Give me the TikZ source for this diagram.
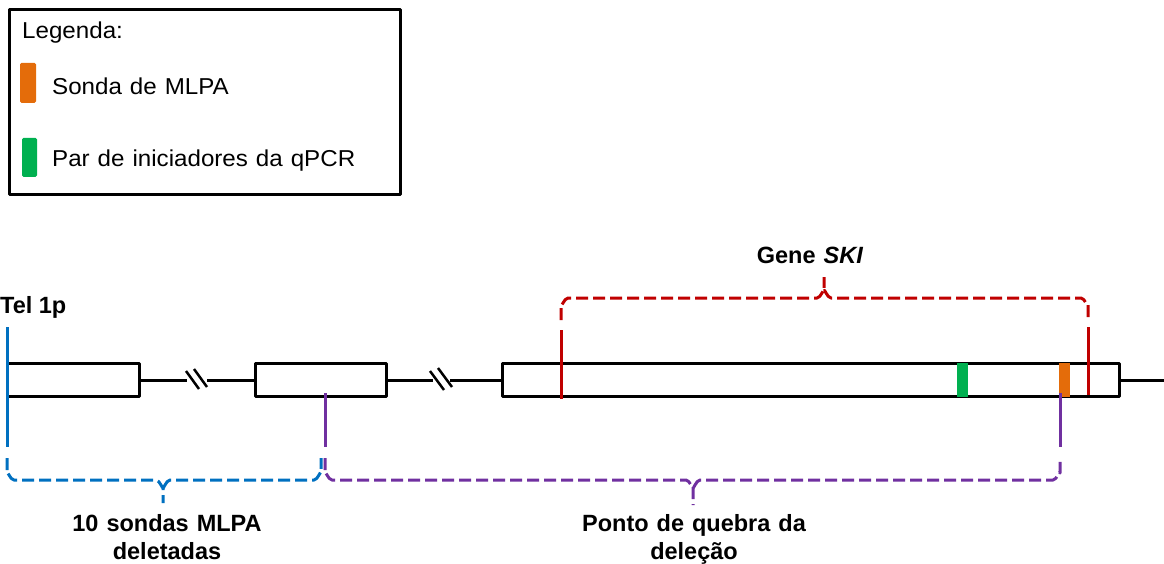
\documentclass[tikz,border=0pt]{standalone}
\usepackage{graphicx}
\usepackage{fontspec}
\setmainfont{Liberation Sans}
\definecolor{cblue}{RGB}{0,112,192}
\definecolor{cred}{RGB}{192,0,0}
\definecolor{cpurple}{RGB}{112,48,160}
\definecolor{cgreen}{RGB}{0,176,80}
\definecolor{corange}{RGB}{228,108,10}
\newcommand\legtext[1]{\scalebox{1.05}[1]{\spaceskip=7.6pt\relax #1}}
\newcommand\lblsp{\spaceskip=8pt\relax}
\begin{document}
\begin{tikzpicture}[x=1pt,y=-1pt,line join=round,
  seg/.style={draw=black,line width=3pt,fill=white,inner sep=0pt,minimum height=33pt},
  axis/.style={draw=black,line width=3pt},
  brk/.style={draw=black,line width=2.5pt},
  vline/.style={line width=3pt},
  bracepath/.style={line width=3pt,dash pattern=on 12pt off 5pt},
  swatch/.style={rounded corners=1.5pt},
  legtxt/.style={font=\fontsize{23}{27}\selectfont,inner sep=0pt,anchor=base west},
  lbl/.style={font=\fontsize{23.5}{28}\selectfont\bfseries,inner sep=0pt,align=center}]
\useasboundingbox (0,0) rectangle (1164,564);

% legend
\node[draw=black,line width=3pt,minimum width=391pt,minimum height=184.5pt,inner sep=0pt] (legend) at (205,102) {};
\node[legtxt] (legtitle) at (22,39) {\legtext{Legenda:}};
\fill[corange,swatch] (20,63) rectangle (36,103);
\node[legtxt] (legmlpa) at (52,95) {\legtext{Sonda de MLPA}};
\fill[cgreen,swatch] (22,138) rectangle (37,177);
\node[legtxt] (legqpcr) at (52,167) {\legtext{Par de iniciadores da qPCR}};

% segments
\node[seg,minimum width=132pt] (b1) at (73,380) {};
\node[seg,minimum width=131pt] (b2) at (320.5,380) {};
\node[seg,minimum width=617pt] (b3) at (810.5,380) {};

\coordinate (g1a) at (187,380);
\coordinate (g1b) at (207,380);
\coordinate (g2a) at (433,380);
\coordinate (g2b) at (450,380);
\coordinate (endr) at (1164,380);
\draw[axis] (b1.east) -- (g1a);
\draw[axis] (g1b) -- (b2.west);
\draw[axis] (b2.east) -- (g2a);
\draw[axis] (g2b) -- (b3.west);
\draw[axis] (b3.east) -- (endr);
\draw[brk] (186,371) -- (199,389);
\draw[brk] (194,369) -- (207,387);
\draw[brk] (430,371) -- (444,390);
\draw[brk] (438,368) -- (452,387);

% markers in the gene segment
\fill[cgreen] (957,363) rectangle (968,397);
\fill[corange] (1059,363) rectangle (1070,397);
\draw[cred,vline] (561,330) -- (561,399);
\draw[cred,vline] (1088,327) -- (1088,395);

% telomere and breakpoint lines
\draw[cblue,vline] (7,327) -- (7,447);
\draw[cpurple,vline] (325,393) -- (325,447);
\draw[cpurple,vline] (1060,393) -- (1060,447);

% braces
\draw[cred,bracepath] (561,320) -- (561,305) to[out=-90,in=180] (568,298) -- (817,298)
  to[out=0,in=90] (824,291) -- (824,277);
\draw[cred,bracepath] (824,291) to[out=90,in=180] (831,298) -- (1081,298)
  to[out=0,in=-90] (1088,305) -- (1088,320);

\draw[cblue,bracepath] (7,458) -- (7,473) to[out=90,in=180] (14,480) -- (156,480)
  to[out=0,in=-90] (163,487) -- (163,503);
\draw[cblue,bracepath] (163,487) to[out=-90,in=180] (170,480) -- (314,480)
  to[out=0,in=90] (321,473) -- (321,458);

\draw[cpurple,bracepath] (325,458) -- (325,473) to[out=90,in=180] (332,480) -- (686,480)
  to[out=0,in=-90] (693,487) -- (693,505);
\draw[cpurple,bracepath] (693,487) to[out=-90,in=180] (700,480) -- (1053,480)
  to[out=0,in=90] (1060,473) -- (1060,458);

% labels
\node[lbl,anchor=base west] (tel) at (0,313) {Tel 1p};
\node[lbl,anchor=base] (ski) at (810,263) {\lblsp Gene \textit{SKI}};
\node[lbl,anchor=north] (mlpa) at (167,514) {\lblsp 10 sondas MLPA\\\lblsp deletadas};
\node[lbl,anchor=north] (ponto) at (694,514) {\lblsp Ponto de quebra da\\deleção};
\end{tikzpicture}
\end{document}
